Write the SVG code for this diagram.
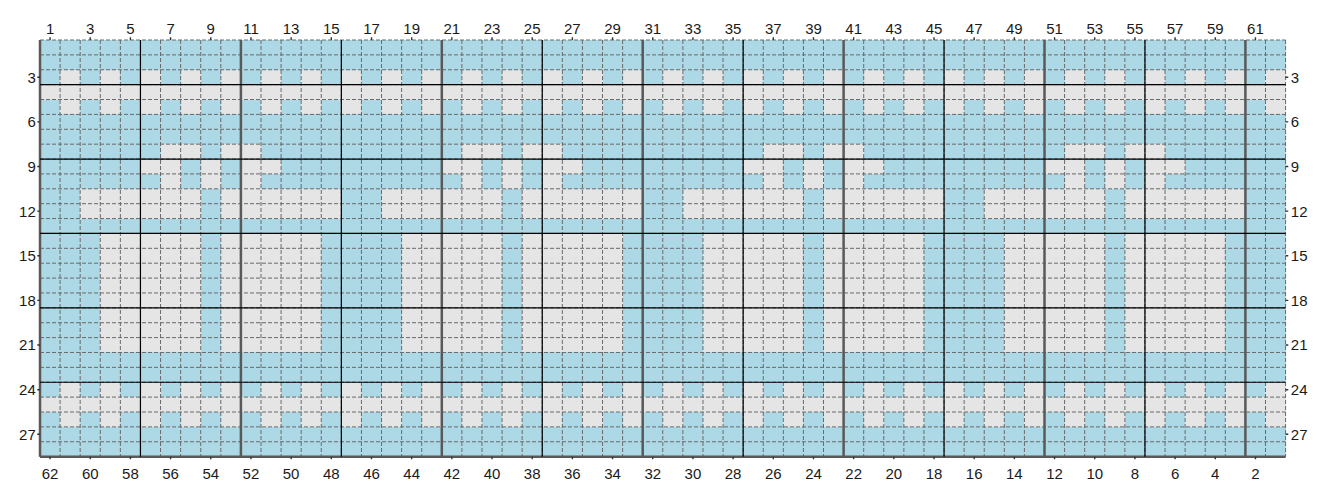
<svg xmlns="http://www.w3.org/2000/svg" xmlns:xlink="http://www.w3.org/1999/xlink" width="1326" height="497" viewBox="0 0 1326 497">
<style>
.dash{fill:none;stroke:#6a6a6a;stroke-width:1;stroke-dasharray:4 2}
.thick{fill:none;stroke:#595959;stroke-width:2.5}
.thin{fill:none;stroke:#000;stroke-width:1.2}
.tick{fill:none;stroke:#333;stroke-width:1.4}
text{font-family:"Liberation Sans",Arial,sans-serif;font-size:15px;fill:#1a1a1a}
.t{text-anchor:middle}
.l{text-anchor:end}
</style>
<defs>
<path id="alt" fill="#E5E5E5" d="M1 2h1v3h-1z
m2 0h1v3h-1zm2 0h1v3h-1zm2 0h1v3h-1zm2 0h1v3h-1zm2 0h1v3h-1z
m2 0h1v3h-1zm2 0h1v3h-1zm2 0h1v3h-1zm2 0h1v3h-1zm2 0h1v3h-1z
m2 0h1v3h-1zm2 0h1v3h-1zm2 0h1v3h-1zm2 0h1v3h-1zm2 0h1v3h-1z
m2 0h1v3h-1zm2 0h1v3h-1zm2 0h1v3h-1zm2 0h1v3h-1zm2 0h1v3h-1z
m2 0h1v3h-1zm2 0h1v3h-1zm2 0h1v3h-1zm2 0h1v3h-1zm2 0h1v3h-1z
m2 0h1v3h-1zm2 0h1v3h-1zm2 0h1v3h-1zm2 0h1v3h-1zm2 0h1v3h-1z"/>
<g id="blk" fill="#E5E5E5">
<rect x="6" y="7" width="2" height="1"/>
<rect x="9" y="7" width="2" height="1"/>
<rect x="5" y="8" width="2" height="1"/>
<rect x="8" y="8" width="1" height="1"/>
<rect x="10" y="8" width="2" height="1"/>
<rect x="6" y="9" width="1" height="1"/>
<rect x="8" y="9" width="1" height="1"/>
<rect x="10" y="9" width="1" height="1"/>
<rect x="2" y="10" width="6" height="2"/>
<rect x="9" y="10" width="6" height="2"/>
<rect x="3" y="13" width="5" height="8"/>
<rect x="9" y="13" width="5" height="8"/>
</g>
<path id="tx" d="M50.05 0v2.7M90.23 0v2.7M130.41 0v2.7M170.59 0v2.7M210.77 0v2.7M250.95 0v2.7M291.13 0v2.7M331.31 0v2.7M371.49 0v2.7M411.67 0v2.7M451.85 0v2.7M492.03 0v2.7M532.21 0v2.7M572.39 0v2.7M612.57 0v2.7M652.75 0v2.7M692.93 0v2.7M733.11 0v2.7M773.29 0v2.7M813.47 0v2.7M853.65 0v2.7M893.83 0v2.7M934.01 0v2.7M974.19 0v2.7M1014.37 0v2.7M1054.55 0v2.7M1094.73 0v2.7M1134.91 0v2.7M1175.09 0v2.7M1215.27 0v2.7M1255.45 0v2.7"/>
<path id="ty" d="M0 77.2h2.7M0 121.84h2.7M0 166.48h2.7M0 211.12h2.7M0 255.76h2.7M0 300.4h2.7M0 345.04h2.7M0 389.68h2.7M0 434.32h2.7"/>
</defs>
<rect width="1326" height="497" fill="#fff"/>
<g id="cells" transform="translate(40 40) scale(20.09 14.88)" shape-rendering="crispEdges">
<rect width="62" height="28" fill="#ADD8E6"/>
<rect y="3" width="62" height="1" fill="#E5E5E5"/>
<rect y="24" width="62" height="1" fill="#E5E5E5"/>
<use xlink:href="#alt"/>
<use xlink:href="#alt" y="21"/>
<use xlink:href="#blk"/>
<use xlink:href="#blk" x="15"/>
<use xlink:href="#blk" x="30"/>
<use xlink:href="#blk" x="45"/>
</g>
<g id="grid">
<path class="dash" d="M40 40v416.64M60.09 40v416.64M80.18 40v416.64M100.27 40v416.64M120.36 40v416.64M140.45 40v416.64M160.54 40v416.64M180.63 40v416.64M200.72 40v416.64M220.81 40v416.64M240.9 40v416.64M260.99 40v416.64M281.08 40v416.64M301.17 40v416.64M321.26 40v416.64M341.35 40v416.64M361.44 40v416.64M381.53 40v416.64M401.62 40v416.64M421.71 40v416.64M441.8 40v416.64M461.89 40v416.64M481.98 40v416.64M502.07 40v416.64M522.16 40v416.64M542.25 40v416.64M562.34 40v416.64M582.43 40v416.64M602.52 40v416.64M622.61 40v416.64M642.7 40v416.64M662.79 40v416.64M682.88 40v416.64M702.97 40v416.64M723.06 40v416.64M743.15 40v416.64M763.24 40v416.64M783.33 40v416.64M803.42 40v416.64M823.51 40v416.64M843.6 40v416.64M863.69 40v416.64M883.78 40v416.64M903.87 40v416.64M923.96 40v416.64M944.05 40v416.64M964.14 40v416.64M984.23 40v416.64M1004.32 40v416.64M1024.41 40v416.64M1044.5 40v416.64M1064.59 40v416.64M1084.68 40v416.64M1104.77 40v416.64M1124.86 40v416.64M1144.95 40v416.64M1165.04 40v416.64M1185.13 40v416.64M1205.22 40v416.64M1225.31 40v416.64M1245.4 40v416.64M1265.49 40v416.64M1285.58 40v416.64"/>
<path class="dash" d="M40 40h1245.58M40 54.88h1245.58M40 69.76h1245.58M40 84.64h1245.58M40 99.52h1245.58M40 114.4h1245.58M40 129.28h1245.58M40 144.16h1245.58M40 159.04h1245.58M40 173.92h1245.58M40 188.8h1245.58M40 203.68h1245.58M40 218.56h1245.58M40 233.44h1245.58M40 248.32h1245.58M40 263.2h1245.58M40 278.08h1245.58M40 292.96h1245.58M40 307.84h1245.58M40 322.72h1245.58M40 337.6h1245.58M40 352.48h1245.58M40 367.36h1245.58M40 382.24h1245.58M40 397.12h1245.58M40 412h1245.58M40 426.88h1245.58M40 441.76h1245.58M40 456.64h1245.58"/>
<path class="thick" d="M40 40v416.64M240.9 40v416.64M441.8 40v416.64M642.7 40v416.64M843.6 40v416.64M1044.5 40v416.64M1245.4 40v416.64M40 456.64h1245.58"/>
<path class="thin" d="M140.45 40v416.64M341.35 40v416.64M542.25 40v416.64M743.15 40v416.64M944.05 40v416.64M1144.95 40v416.64M40 84.64h1245.58M40 159.04h1245.58M40 233.44h1245.58M40 307.84h1245.58M40 382.24h1245.58"/>
</g>
<g id="ticks">
<use xlink:href="#tx" class="tick" y="37.3"/>
<use xlink:href="#tx" class="tick" y="456.64"/>
<use xlink:href="#ty" class="tick" x="37.3"/>
<use xlink:href="#ty" class="tick" x="1285.58"/>
</g>
<g id="top-labels" class="t">
<text x="50.05" y="34">1</text><text x="90.23" y="34">3</text><text x="130.41" y="34">5</text><text x="170.59" y="34">7</text><text x="210.77" y="34">9</text><text x="250.95" y="34">11</text><text x="291.13" y="34">13</text><text x="331.31" y="34">15</text><text x="371.49" y="34">17</text><text x="411.67" y="34">19</text><text x="451.85" y="34">21</text><text x="492.03" y="34">23</text><text x="532.21" y="34">25</text><text x="572.39" y="34">27</text><text x="612.57" y="34">29</text><text x="652.75" y="34">31</text><text x="692.93" y="34">33</text><text x="733.11" y="34">35</text><text x="773.29" y="34">37</text><text x="813.47" y="34">39</text><text x="853.65" y="34">41</text><text x="893.83" y="34">43</text><text x="934.01" y="34">45</text><text x="974.19" y="34">47</text><text x="1014.37" y="34">49</text><text x="1054.55" y="34">51</text><text x="1094.73" y="34">53</text><text x="1134.91" y="34">55</text><text x="1175.09" y="34">57</text><text x="1215.27" y="34">59</text><text x="1255.45" y="34">61</text>
</g>
<g id="bottom-labels" class="t">
<text x="50.05" y="479.3">62</text><text x="90.23" y="479.3">60</text><text x="130.41" y="479.3">58</text><text x="170.59" y="479.3">56</text><text x="210.77" y="479.3">54</text><text x="250.95" y="479.3">52</text><text x="291.13" y="479.3">50</text><text x="331.31" y="479.3">48</text><text x="371.49" y="479.3">46</text><text x="411.67" y="479.3">44</text><text x="451.85" y="479.3">42</text><text x="492.03" y="479.3">40</text><text x="532.21" y="479.3">38</text><text x="572.39" y="479.3">36</text><text x="612.57" y="479.3">34</text><text x="652.75" y="479.3">32</text><text x="692.93" y="479.3">30</text><text x="733.11" y="479.3">28</text><text x="773.29" y="479.3">26</text><text x="813.47" y="479.3">24</text><text x="853.65" y="479.3">22</text><text x="893.83" y="479.3">20</text><text x="934.01" y="479.3">18</text><text x="974.19" y="479.3">16</text><text x="1014.37" y="479.3">14</text><text x="1054.55" y="479.3">12</text><text x="1094.73" y="479.3">10</text><text x="1134.91" y="479.3">8</text><text x="1175.09" y="479.3">6</text><text x="1215.27" y="479.3">4</text><text x="1255.45" y="479.3">2</text>
</g>
<g id="left-labels" class="l">
<text x="35.8" y="82.6">3</text><text x="35.8" y="127.24">6</text><text x="35.8" y="171.88">9</text><text x="35.8" y="216.52">12</text><text x="35.8" y="261.16">15</text><text x="35.8" y="305.8">18</text><text x="35.8" y="350.44">21</text><text x="35.8" y="395.08">24</text><text x="35.8" y="439.72">27</text>
</g>
<g id="right-labels">
<text x="1290.8" y="82.6">3</text><text x="1290.8" y="127.24">6</text><text x="1290.8" y="171.88">9</text><text x="1290.8" y="216.52">12</text><text x="1290.8" y="261.16">15</text><text x="1290.8" y="305.8">18</text><text x="1290.8" y="350.44">21</text><text x="1290.8" y="395.08">24</text><text x="1290.8" y="439.72">27</text>
</g>
</svg>
